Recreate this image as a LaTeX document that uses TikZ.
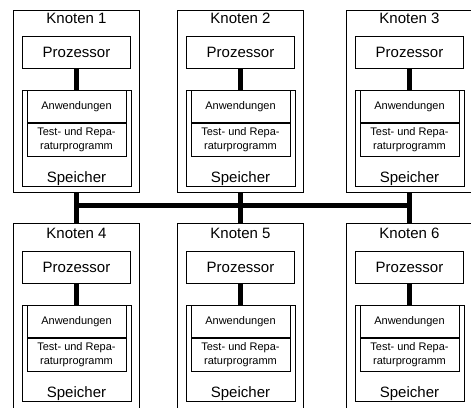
\documentclass[tikz,border=0pt]{standalone}
\usepackage{fontspec}
\setmainfont{Liberation Sans}
\begin{document}
\begin{tikzpicture}[x=1pt,y=-1pt,
  box/.style={draw, line width=0.9pt, inner sep=0pt, anchor=north, rectangle},
  bigtext/.style={font=\fontsize{15}{18}\selectfont},
  smalltext/.style={font=\fontsize{11}{14}\selectfont, align=center},
  textlabel/.style={bigtext, inner sep=0pt, anchor=base},
  wire/.style={line width=5pt}]
\useasboundingbox (0,0) rectangle (471,407);
\clip (0,0) rectangle (471,407);
% six nodes: outer frame, processor, memory with its two program areas
\foreach \n/\x/\y/\t/\h in {1/76.5/0/10/182, 2/240.5/0/10/182, 3/409.5/0/10/182,
                            4/76.5/215/223/200, 5/240.5/215/223/200, 6/409.5/215/223/200}{
  \node[box, minimum width=126pt, minimum height=\h pt] (k\n) at (\x,\t) {};
  \node[textlabel] (kl\n) at (\x,23.5+\y) {Knoten \n};
  \node[box, bigtext, minimum width=108pt, minimum height=32pt] (p\n) at (\x,36+\y) {Prozessor};
  \node[box, minimum width=109pt, minimum height=96pt] (s\n) at (\x,90+\y) {};
  \node[textlabel] (sl\n) at (\x,182+\y) {Speicher};
  \node[box, smalltext, minimum width=99pt, minimum height=32pt] (a\n) at (\x,90+\y) {Anwendungen};
  \node[box, smalltext, minimum width=99pt, minimum height=33pt] (t\n) at (a\n.south) {Test- und Repa-\\raturprogramm};
  \draw[wire] (p\n.south) -- (s\n.north);
}
% bus between the two rows
\coordinate (busy) at (0,205);
\foreach \u/\d in {1/4, 2/5, 3/6}{
  \draw[wire] (k\u.south) -- (k\d.north);
}
\draw[wire] (k1.south |- busy) -- (k3.south |- busy);
\end{tikzpicture}
\end{document}
